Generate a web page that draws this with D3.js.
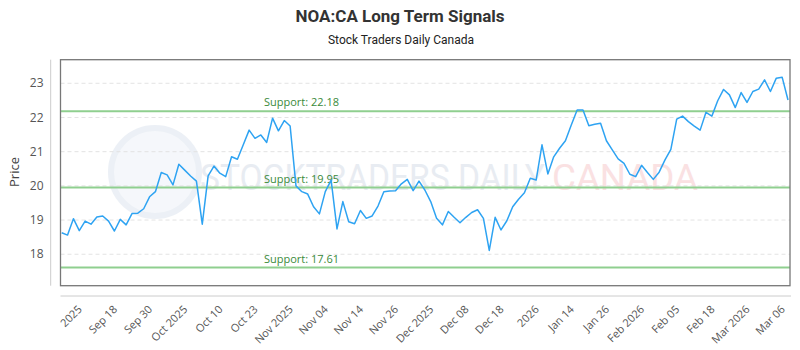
<!DOCTYPE html>
<html><head><meta charset="utf-8">
<script src="https://cdn.jsdelivr.net/npm/d3@7"></script>
<style>body{margin:0;background:#fff}svg{display:block}</style>
</head><body><div id="chart"></div>
<script>
const title = "NOA:CA Long Term Signals";
const subtitle = "Stock Traders Daily Canada";
const prices = [
18.63,18.56,19.04,18.69,18.97,18.88,19.09,19.12,18.97,18.68,19.02,18.86,19.19,19.20,19.33,19.68,19.83,20.39,20.32,20.03,20.63,20.46,20.29,20.14,18.88,20.29,20.58,20.37,20.27,20.85,20.78,21.20,
21.63,21.39,21.49,21.27,21.98,21.61,21.91,21.75,20.00,19.83,19.76,19.39,19.18,19.83,20.17,18.74,19.54,18.95,18.89,19.28,19.05,19.12,19.41,19.83,19.85,19.86,20.06,20.19,19.86,20.14,19.88,19.54,19.05,
18.86,19.25,19.08,18.92,19.08,19.22,19.30,19.05,18.11,19.08,18.71,18.98,19.39,19.61,19.80,20.22,20.17,21.20,20.35,20.85,21.10,21.32,21.78,22.22,22.22,21.76,21.80,21.83,21.32,21.05,20.79,
20.66,20.34,20.27,20.60,20.39,20.19,20.40,20.76,21.07,21.95,22.04,21.88,21.75,21.63,22.15,22.04,22.49,22.82,22.66,22.29,22.73,22.44,22.76,22.83,23.10,22.76,23.15,23.18,22.51];
const xTickLabels = ["2025","Sep 18","Sep 30","Oct 2025","Oct 10","Oct 23","Nov 2025","Nov 04","Nov 14","Nov 26","Dec 2025","Dec 08","Dec 18","2026","Jan 14","Jan 26","Feb 2026","Feb 05","Feb 18","Mar 2026","Mar 06"];
const xTickIndex = [3,9,15,21,27,33,39,45,51,57,63,69,75,81,87,93,99,105,111,117,123];
const yTicks = [18,19,20,21,22,23];
const supports = [22.18,19.95,17.61];
const yDomain = [17.08,23.69];

const W=800,H=350;
const L=60.5,R=790,T=59.7,B=285.7;
const svg=d3.select("#chart").append("svg").attr("width",W).attr("height",H);

const x=d3.scaleLinear().domain([0,prices.length-1]).range([61.7,788]);
const y=d3.scaleLinear().domain(yDomain).range([B,T]);

// title
svg.append("text").attr("x",400).attr("y",22).attr("text-anchor","middle")
  .attr("font-family","'Liberation Sans Narrow','Roboto',sans-serif").attr("font-weight","bold")
  .attr("font-size",17).attr("fill","#333").text(title);
svg.append("text").attr("x",401).attr("y",44).attr("text-anchor","middle")
  .attr("font-family","'Liberation Sans Narrow','Roboto',sans-serif")
  .attr("font-size",12).attr("fill","#222").text(subtitle);

// watermark
const wm=svg.append("g").attr("opacity",0.55);
wm.append("circle").attr("cx",155).attr("cy",172).attr("r",44).attr("fill","#eef2f8").attr("stroke","#dde5ef").attr("stroke-width",6);
wm.append("text").attr("x",200).attr("y",190).attr("font-family","'Liberation Sans Narrow','Roboto',sans-serif")
  .attr("font-size",36).attr("fill","#d6dde8").attr("textLength",345).attr("lengthAdjust","spacingAndGlyphs").text("STOCKTRADERS DAILY");
wm.append("text").attr("x",552).attr("y",190).attr("font-family","'Liberation Sans Narrow','Roboto',sans-serif")
  .attr("font-size",36).attr("fill","#f6c9cc").attr("textLength",146).attr("lengthAdjust","spacingAndGlyphs").text("CANADA");

// grid
svg.append("g").selectAll("line").data(yTicks).join("line")
  .attr("x1",L).attr("x2",R).attr("y1",d=>y(d)).attr("y2",d=>y(d))
  .attr("stroke","#e3e3e3").attr("stroke-dasharray","4,3").attr("stroke-width",1);

// y tick labels
svg.append("g").selectAll("text").data(yTicks).join("text")
  .attr("x",43.5).attr("y",d=>y(d)).attr("dy","0.35em").attr("text-anchor","end")
  .attr("font-family","'Open Sans',sans-serif").attr("font-size",12).attr("fill","#555").text(d=>d);
svg.append("text").attr("transform","translate(19,172) rotate(-90)").attr("text-anchor","middle")
  .attr("font-family","'Open Sans',sans-serif").attr("font-size",13).attr("fill","#444").text("Price");

// axis lines (light)
svg.append("line").attr("x1",50.7).attr("x2",50.7).attr("y1",T).attr("y2",B).attr("stroke","#ccc");
svg.append("line").attr("x1",L).attr("x2",R+1).attr("y1",296).attr("y2",296).attr("stroke","#ccc");

// support lines
const sg=svg.append("g");
sg.selectAll("line").data(supports).join("line")
  .attr("x1",L).attr("x2",R).attr("y1",d=>y(d)).attr("y2",d=>y(d))
  .attr("stroke","#8fcf8f").attr("stroke-width",2);
sg.selectAll("text").data(supports).join("text")
  .attr("x",264).attr("y",d=>y(d)-5).attr("font-family","'Open Sans',sans-serif")
  .attr("font-size",11).attr("fill","#3a8a3a").text(d=>"Support: "+d.toFixed(2));

// price line
svg.append("path").datum(prices)
  .attr("d",d3.line().x((d,i)=>x(i)).y(d=>y(d)))
  .attr("fill","none").attr("stroke","#2ea3f2").attr("stroke-width",1.5).attr("stroke-linejoin","round");

// plot border
svg.append("rect").attr("x",L).attr("y",T).attr("width",R-L).attr("height",B-T)
  .attr("fill","none").attr("stroke","#777").attr("stroke-width",1.3);

// x tick labels
svg.append("g").selectAll("text").data(xTickLabels).join("text")
  .attr("transform",(d,i)=>`translate(${x(xTickIndex[i])+3.5},310) rotate(-45)`)
  .attr("text-anchor","end").attr("font-family","'Open Sans',sans-serif")
  .attr("font-size",11).attr("fill","#555").text(d=>d);
</script></body></html>
